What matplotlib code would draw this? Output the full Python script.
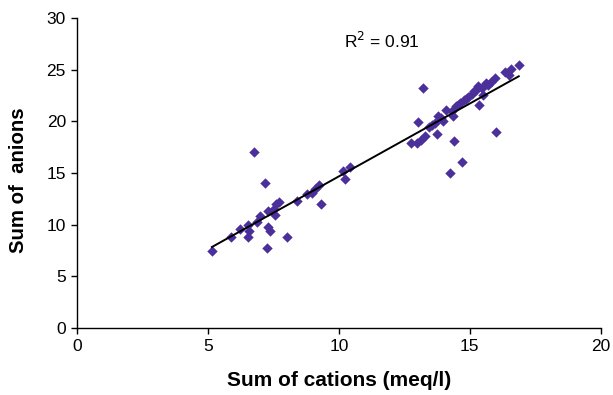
import numpy as np
import matplotlib
matplotlib.use("Agg")
import matplotlib.pyplot as plt

plt.rcParams['font.family'] = ['Liberation Sans', 'DejaVu Sans']

cations = [5.15, 5.9, 6.22, 6.52, 6.52, 6.58, 6.76, 6.87, 7.0, 7.18, 7.24, 7.3, 7.36,
           7.3, 7.54, 7.58, 7.6, 7.72, 8.03, 8.4, 8.8, 8.96, 9.1, 9.25, 9.3,
           10.15, 10.25, 10.42, 12.76, 12.98, 13.03, 13.13, 13.2, 13.28, 13.43,
           13.66, 13.76, 13.8, 13.96, 14.1, 14.25, 14.33, 14.37, 14.4, 14.48,
           14.63, 14.7, 14.78, 14.93, 15.07, 15.22, 15.33, 15.37, 15.52, 15.6,
           15.82, 15.97, 16.0, 16.34, 16.49, 16.57, 16.87,
           13.55, 13.9, 14.55, 14.85, 15.15, 15.45, 15.7]
anions = [7.46, 8.8, 9.6, 8.8, 10.0, 9.4, 17.0, 10.3, 10.8, 14.0, 7.7, 9.77, 9.4,
          11.3, 11.5, 10.9, 12.0, 12.2, 8.8, 12.3, 12.97, 13.1, 13.45, 13.8, 12.0,
          15.2, 14.4, 15.6, 17.9, 17.9, 19.95, 18.25, 23.2, 18.6, 19.5,
          19.85, 18.8, 20.5, 20.0, 21.1, 15.05, 21.0, 20.5, 18.1, 21.5,
          21.8, 16.1, 22.1, 22.4, 22.7, 23.05, 23.4, 21.55, 22.6, 23.7,
          23.85, 24.2, 18.95, 24.8, 24.5, 25.1, 25.5,
          19.7, 20.3, 21.6, 22.2, 22.9, 23.2, 23.5]

x_ticks = [0, 5, 10, 15, 20]
y_ticks = [0, 5, 10, 15, 20, 25, 30]
r2_label = "R$^2$ = 0.91"

x = np.array(cations)
y = np.array(anions)
slope, intercept = np.polyfit(x, y, 1)

fig = plt.figure(figsize=(6.13, 3.95), dpi=100)
ax = fig.add_axes([0.1256, 0.1696, 0.8544, 0.7844])
ax.scatter(x, y, marker='D', s=28, color='#4B2F9A', zorder=2, linewidths=0)
xl = np.array([x.min(), x.max()])
ax.plot(xl, slope * xl + intercept, color='black', lw=1.4, zorder=3)

ax.set_xlim(0, 20)
ax.set_ylim(0, 30)
ax.set_xticks(x_ticks)
ax.set_yticks(y_ticks)
for s in ['top', 'right']:
    ax.spines[s].set_visible(False)
for s in ['left', 'bottom']:
    ax.spines[s].set_linewidth(1.0)
ax.tick_params(direction='out', length=4.5, width=1, labelsize=12.5)
ax.set_xlabel("Sum of cations (meq/l)", fontsize=15, fontweight='bold', labelpad=12.5)
ax.set_ylabel("Sum of  anions", fontsize=14.7, fontweight='bold', labelpad=13, y=0.477)
ax.text(10.2, 27.8, r2_label, fontsize=12.5, va='center', ha='left')

fig.savefig("out.png", dpi=100)
